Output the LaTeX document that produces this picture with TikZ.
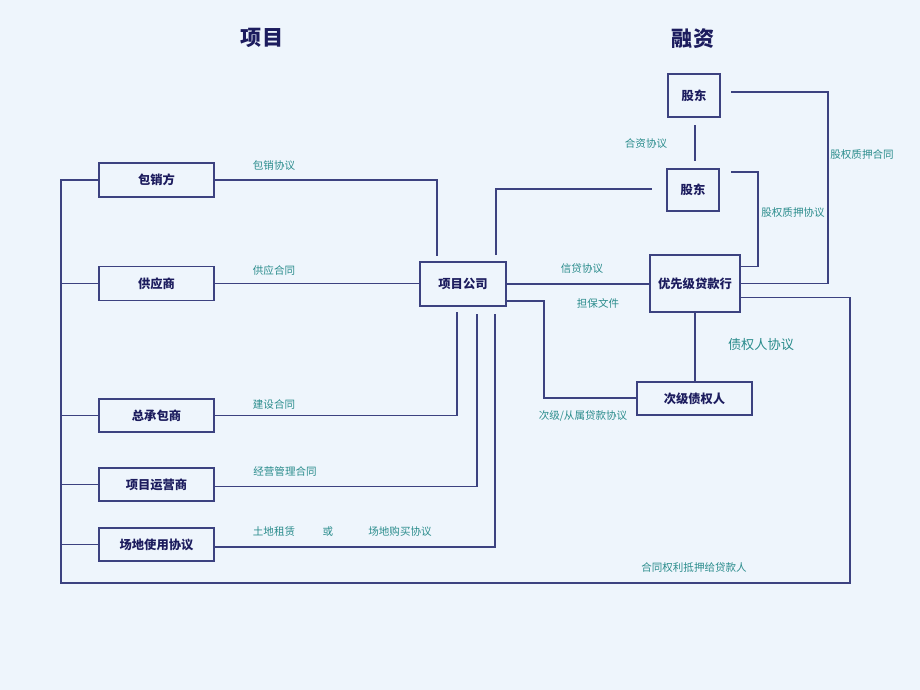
\documentclass[tikz,border=0pt]{standalone}
\usepackage{fontspec}
\setmainfont{Noto Sans CJK SC}
\definecolor{bg}{HTML}{EEF5FC}
\definecolor{wire}{HTML}{3C4280}
\definecolor{navy}{HTML}{1C1C5E}
\definecolor{teal}{HTML}{2A8C8C}
\tikzset{
  party/.style={draw=wire, line width=0.7pt, inner sep=0pt, text=navy, font=\fontsize{7pt}{8pt}\selectfont\bfseries},
  deal/.style={text=teal, font=\fontsize{6pt}{7pt}\selectfont, inner sep=0pt},
  wires/.style={draw=wire, line width=0.7pt},
  title/.style={text=navy, font=\fontsize{12pt}{14pt}\selectfont\bfseries}
}
\begin{document}
\begin{tikzpicture}[x=0.02cm, y=-0.02cm]
% Background
\fill[bg] (0,0) rectangle (920,690);
\useasboundingbox (0,0) rectangle (920,690);
% Titles
\node[title] (t1) at (262,38) {项目};
\node[title] (t2) at (693,39) {融资};
% Parties on the project side
\node[party, minimum width=2.3cm, minimum height=0.68cm] (bx) at (156.5,180) {包销方};
\node[party, minimum width=2.3cm, minimum height=0.68cm] (gy) at (156.5,283.5) {供应商};
\node[party, minimum width=2.3cm, minimum height=0.66cm] (zc) at (156.5,415.5) {总承包商};
\node[party, minimum width=2.3cm, minimum height=0.66cm] (yy) at (156.5,484.5) {项目运营商};
\node[party, minimum width=2.3cm, minimum height=0.66cm] (cd) at (156.5,544.5) {场地使用协议};
% Project company
\node[party, minimum width=1.72cm, minimum height=0.88cm] (pc) at (463,284) {项目公司};
% Parties on the finance side
\node[party, minimum width=1.04cm, minimum height=0.86cm] (gd1) at (694,95.5) {股东};
\node[party, minimum width=1.04cm, minimum height=0.84cm] (gd2) at (693,190) {股东};
\node[party, minimum width=1.8cm, minimum height=1.14cm] (yx) at (695,283.5) {优先级贷款行};
\node[party, minimum width=2.3cm, minimum height=0.66cm] (cj) at (694.5,398.5) {次级债权人};
% Free line ends
\coordinate (bxEnd) at (437,256);
\coordinate (zcEnd) at (457,312);
\coordinate (yyEnd) at (477,314);
\coordinate (cdEnd) at (495,314);
\coordinate (gdEnd) at (652,189);
\coordinate (pcUp) at (496,255);
\coordinate (gd1Out) at (731,92);
\coordinate (gd2Out) at (731,172);
\coordinate (gdTop) at (695,125);
\coordinate (gdBot) at (695,161);
\coordinate (spineTop) at (61,180);
\coordinate (spineBot) at (61,583);
\coordinate (farRight) at (850,583);
% Left spine
\draw[wires] ([yshift=-0.28cm]yx.east) -| (farRight) -- (spineBot) -- (spineTop) -- (bx.west);
\draw[wires] (gy.west) -- (gy.west -| spineTop);
\draw[wires] (zc.west) -- (zc.west -| spineTop);
\draw[wires] (yy.west) -- (yy.west -| spineTop);
\draw[wires] (cd.west) -- (cd.west -| spineTop);
% Project side contracts
\draw[wires] (bx.east) -| (bxEnd);
\draw[wires] (gy.east) -- (gy.east -| pc.west);
\draw[wires] (zc.east) -| (zcEnd);
\draw[wires] ([yshift=-0.04cm]yy.east) -| (yyEnd);
\draw[wires] ([yshift=-0.05cm]cd.east) -| (cdEnd);
% Finance side contracts
\draw[wires] (pc.east) -- (pc.east -| yx.west);
\draw[wires] (pcUp) |- (gdEnd);
\draw[wires] ([yshift=-0.34cm]pc.east) -| (544,398) -- (544,398 -| cj.west);
\draw[wires] (yx.south) -- (yx.south |- cj.north);
\draw[wires] (gdTop) -- (gdBot);
\draw[wires] (yx.east) -| (828,92) -- (gd1Out);
\draw[wires] ([yshift=0.34cm]yx.east) -| (758,172) -- (gd2Out);
% Contract labels
\node[deal] (l1) at (274,166) {包销协议};
\node[deal] (l2) at (274,270) {供应合同};
\node[deal] (l3) at (274,404) {建设合同};
\node[deal] (l4) at (285,471) {经营管理合同};
\node[deal] (l5) at (274,532) {土地租赁};
\node[deal] (l6) at (328,532) {或};
\node[deal] (l7) at (400,532) {场地购买协议};
\node[deal] (l8) at (582,269) {信贷协议};
\node[deal] (l9) at (598,303) {担保文件};
\node[deal] (l10) at (583,416) {次级/从属贷款协议};
\node[deal, font=\fontsize{7.5pt}{9pt}\selectfont] (l11) at (761,345) {债权人协议};
\node[deal] (l12) at (646,144) {合资协议};
\node[deal] (l13) at (862,155) {股权质押合同};
\node[deal] (l14) at (793,213) {股权质押协议};
\node[deal] (l15) at (694,567) {合同权利抵押给贷款人};
\end{tikzpicture}
\end{document}
